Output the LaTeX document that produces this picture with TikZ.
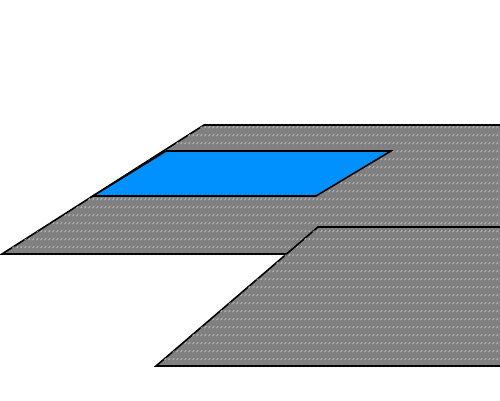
\documentclass[tikz,border=0pt]{standalone}
\usepackage{xcolor}
\usepackage{tikz}
\usetikzlibrary{patterns}

\definecolor{slabgray}{RGB}{128,128,128}
\definecolor{poolblue}{RGB}{0,145,255}

\pgfdeclarepatternformonly{dashrows}{\pgfpointorigin}{\pgfpoint{4pt}{8pt}}{\pgfpoint{4pt}{8pt}}{
  \pgfsetlinewidth{0.9pt}
  \pgfpathmoveto{\pgfpoint{0.6pt}{1pt}}
  \pgfpathlineto{\pgfpoint{2.8pt}{3.2pt}}
  \pgfusepath{stroke}
}

\begin{document}
\begin{tikzpicture}[
  x=1pt,y=-1pt,
  plane/.style={draw=black,line width=1.6pt,line join=miter,fill=slabgray,
    postaction={pattern=dashrows,pattern color=gray!55}},
  pool/.style={draw=black,line width=1.6pt,fill=poolblue}
]
\clip (0,0) rectangle (500,400);
% upper slab with the pool on it
\draw[plane] (204,125) -- (530,125) -- (530,254) -- (2,254) -- cycle;
\draw[pool] (166,151) -- (391,151) -- (316,196) -- (93,196) -- cycle;
% lower slab
\draw[plane] (318,227) -- (530,227) -- (530,366) -- (156,366) -- cycle;
\end{tikzpicture}
\end{document}
